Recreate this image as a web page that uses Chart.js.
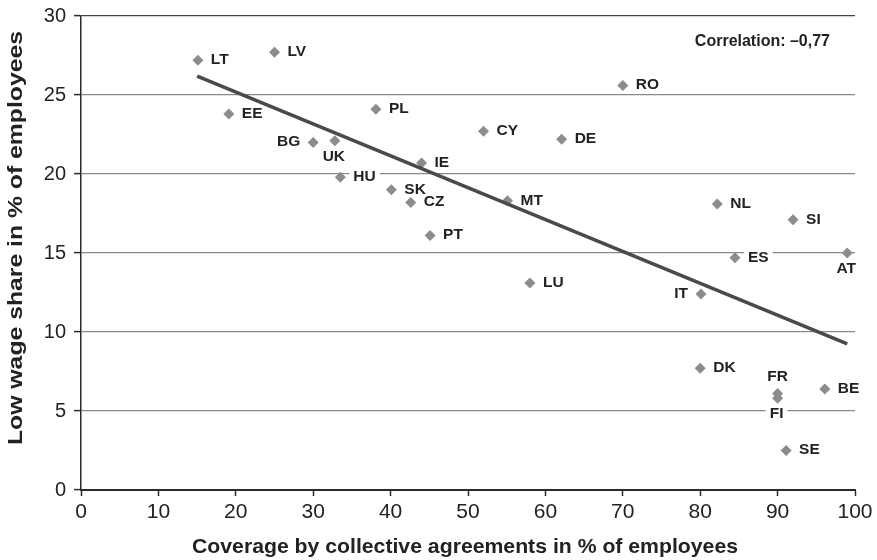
<!DOCTYPE html>
<html>
<head>
<meta charset="utf-8">
<script src="https://cdn.jsdelivr.net/npm/chart.js@4/dist/chart.umd.min.js"></script>
<style>
  html, body { margin: 0; padding: 0; background: #fff; }
  #wrap { width: 877px; height: 560px; position: relative; }
</style>
</head>
<body>
<div id="wrap"><canvas id="c" width="877" height="560"></canvas></div>
<script>
// ---- Data ----
const countries = ['LT','LV','EE','PL','BG','UK','HU','SK','CZ','IE','PT','CY','DE','RO','MT','LU','NL','SI','ES','AT','IT','DK','FR','FI','BE','SE'];
const coverage  = [15.1, 25.0, 19.1, 38.1, 30.0, 32.8, 33.5, 40.1, 42.6, 44.0, 45.1, 52.0, 62.1, 70.0, 55.1, 58.0, 82.2, 92.0, 84.5, 99.0, 80.1, 80.0, 90.0, 90.0, 96.1, 91.1];
const lowWage   = [27.2, 27.7, 23.8, 24.1, 22.0, 22.1, 19.8, 19.0, 18.2, 20.7, 16.1, 22.7, 22.2, 25.6, 18.3, 13.1, 18.1, 17.1, 14.7, 15.0, 12.4, 7.7, 6.1, 5.8, 6.4, 2.5];
const trendX = [15, 99];
const trendY = [26.2, 9.25];
const xTicks = [0,10,20,30,40,50,60,70,80,90,100];
const yTicks = [0,5,10,15,20,25,30];
const xTitle = 'Coverage by collective agreements in % of employees';
const yTitle = 'Low wage share in % of employees';
const corrText = 'Correlation: \u20130,77';

const FONT = '"Liberation Sans", Arial, Helvetica, sans-serif';
const labelPlacement = { BG: 'left', IT: 'left', UK: 'below', FI: 'below', AT: 'below', FR: 'above' };

const labelsPlugin = {
  id: 'pointLabels',
  beforeDatasetsDraw(chart) {
    const ctx = chart.ctx;
    const xs = chart.scales.x, ys = chart.scales.y;
    ctx.save();
    ctx.font = 'bold 15.5px ' + FONT;
    ctx.textBaseline = 'middle';
    countries.forEach((name, i) => {
      const px = xs.getPixelForValue(coverage[i]);
      const py = ys.getPixelForValue(lowWage[i]);
      const place = labelPlacement[name] || 'right';
      const w = ctx.measureText(name).width;
      let tx, ty = py;
      if (place === 'right') { tx = px + 13; }
      else if (place === 'left') { tx = px - 13 - w; }
      else if (place === 'below') { tx = px - w / 2 - 1; ty = py + 16; }
      else { tx = px - w / 2; ty = py - 16; }
      ctx.fillStyle = '#ffffff';
      ctx.fillRect(tx - 4, ty - 7, w + 8, 14);
      ctx.fillStyle = '#222222';
      ctx.textAlign = 'left';
      ctx.fillText(name, tx, ty - 0.5);
    });
    ctx.restore();
  },
  afterDraw(chart) {
    const ctx = chart.ctx;
    const a = chart.chartArea;
    ctx.save();
    ctx.fillStyle = '#222222';
    // correlation note
    ctx.font = 'bold 16px ' + FONT;
    ctx.textAlign = 'right';
    ctx.textBaseline = 'middle';
    ctx.fillText(corrText, a.right - 25, 42);
    // x axis title
    ctx.font = 'bold 21px ' + FONT;
    ctx.textAlign = 'center';
    ctx.save();
    ctx.translate(465, 547);
    const wx = ctx.measureText(xTitle).width;
    ctx.scale(546 / wx, 1);
    ctx.fillText(xTitle, 0, 0);
    ctx.restore();
    // y axis title
    ctx.save();
    ctx.translate(16, 238);
    ctx.rotate(-Math.PI / 2);
    const wy = ctx.measureText(yTitle).width;
    ctx.scale(414 / wy, 1);
    ctx.fillText(yTitle, 0, 0);
    ctx.restore();
    ctx.restore();
  }
};

new Chart(document.getElementById('c'), {
  type: 'scatter',
  data: {
    datasets: [
      {
        label: 'Countries',
        data: countries.map((c, i) => ({ x: coverage[i], y: lowWage[i] })),
        pointStyle: 'rectRot',
        pointRadius: 5.5,
        pointHoverRadius: 5.5,
        backgroundColor: '#8c8c8c',
        borderWidth: 0,
        order: 2
      },
      {
        label: 'Trend',
        type: 'line',
        data: trendX.map((x, i) => ({ x: x, y: trendY[i] })),
        borderColor: '#4a4a4a',
        borderWidth: 3.5,
        pointRadius: 0,
        fill: false,
        order: 1
      }
    ]
  },
  options: {
    responsive: false,
    animation: false,
    events: [],
    layout: { padding: { top: 16, right: 22, left: 0, bottom: 0 } },
    plugins: { legend: { display: false }, tooltip: { enabled: false } },
    scales: {
      x: {
        type: 'linear', min: 0, max: 100,
        afterFit(s) { s.height = 70; s.paddingLeft = 0; s.paddingRight = 0; },
        afterBuildTicks(s) { s.ticks = xTicks.map(v => ({ value: v })); },
        border: { color: '#2a2a2a', width: 2 },
        grid: { drawOnChartArea: false, drawTicks: true, tickLength: 6, tickColor: '#2a2a2a', tickWidth: 1.5 },
        ticks: { color: '#222', font: { family: FONT, size: 21 }, padding: 4, maxRotation: 0 }
      },
      y: {
        type: 'linear', min: 0, max: 30,
        afterFit(s) { s.width = 81; s.paddingTop = 0; s.paddingBottom = 0; },
        afterBuildTicks(s) { s.ticks = yTicks.map(v => ({ value: v })); },
        border: { color: '#2a2a2a', width: 1.5 },
        grid: {
          drawTicks: true, tickLength: 7, tickWidth: 1.5, tickColor: '#2a2a2a',
          color: ctx => (ctx.tick && ctx.tick.value === 30) ? '#444' : (ctx.tick && ctx.tick.value === 0 ? 'rgba(0,0,0,0)' : '#8a8a8a'),
          lineWidth: 1.2
        },
        ticks: { color: '#222', font: { family: FONT, size: 20 }, padding: 8 }
      }
    }
  },
  plugins: [labelsPlugin]
});
</script>
</body>
</html>
